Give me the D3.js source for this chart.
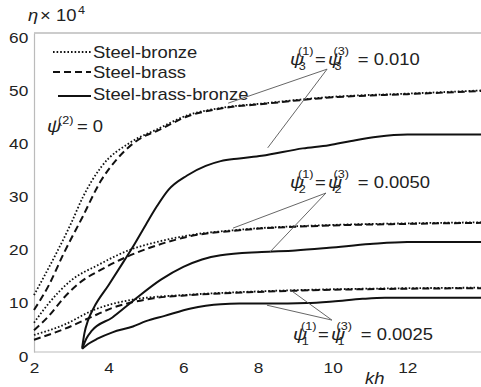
<!DOCTYPE html>
<html>
<head>
<meta charset="utf-8">
<script src="https://cdn.jsdelivr.net/npm/d3@7"></script>
<style>
  body { margin: 0; background: #fff; }
  text { font-family: "Liberation Sans", Arial, sans-serif; fill: #222; }
</style>
</head>
<body>
<svg id="chart"></svg>
<script>
// kh ticks and eta ticks
const xTicks = [2, 4, 6, 8, 10, 12];
const yTicks = [0, 10, 20, 30, 40, 50, 60];

// psi = 0.010
const bronze010 = [[2,10.7],[2.3,14.6],[2.6,18.6],[3.0,24.3],[3.3,29.0],[3.8,34.8],[4.6,39.5],[5.3,41.9],[6.1,44.5],[7.0,45.9],[8.2,46.8],[10,48.0],[12,48.6],[14,49.2]];
const brass010 = [[2,7.9],[2.4,12.6],[2.8,18.6],[3.3,25.4],[3.8,32.3],[4.2,36.1],[4.9,40.4],[5.3,41.6],[6.1,44.3],[7.0,45.8],[8.2,46.7],[10,47.9],[12,48.5],[14,49.1]];
const triple010 = [[3.29,0.8],[3.35,3.5],[3.45,6.0],[3.6,8.3],[4.0,12.6],[4.4,17.0],[4.65,19.8],[5.0,24.0],[5.3,27.5],[5.6,30.5],[6.1,33.2],[6.6,35.0],[7.0,35.9],[7.5,36.4],[8.1,36.9],[9.2,38.3],[9.9,38.9],[10.5,39.7],[11.2,40.5],[12,40.9],[14,40.9]];

// psi = 0.0050
const bronze005 = [[2,5.5],[2.4,9.2],[3.0,13.5],[3.7,16.3],[4.6,19.3],[5.3,20.7],[6.2,22.0],[7.5,23.0],[10,23.9],[12,24.2],[14,24.4]];
const brass005 = [[2,4.1],[2.4,6.8],[2.8,10.2],[3.2,12.9],[3.8,15.5],[4.3,17.3],[5.1,19.6],[6.2,21.8],[7.5,22.9],[10,23.8],[12,24.1],[14,24.3]];
const triple005 = [[3.29,0.6],[3.4,2.5],[3.55,4.0],[4.1,6.5],[4.65,9.6],[5.4,13.6],[6.0,16.0],[6.5,17.4],[7.0,18.2],[8.1,18.8],[9.0,19.1],[9.9,19.6],[11,20.3],[12,20.7],[14,20.7]];

// psi = 0.0025
const bronze0025 = [[2,3.2],[2.8,5.1],[3.6,7.9],[4.6,9.8],[6.2,10.8],[8,11.4],[10,11.8],[12,12.0],[14,12.1]];
const brass0025 = [[2,2.3],[2.8,4.3],[3.7,7.1],[4.1,8.3],[4.6,9.3],[5.2,10.1],[6.2,10.7],[8,11.3],[10,11.7],[12,11.9],[14,12.0]];
const triple0025 = [[3.29,0.6],[3.45,1.5],[3.7,2.5],[4.1,3.7],[4.65,4.8],[5.0,5.8],[5.5,6.8],[6.2,8.2],[6.6,8.7],[7.0,9.0],[7.5,9.1],[8.3,9.1],[9.3,9.2],[10,9.5],[10.8,10.0],[11.4,10.2],[14,10.2]];

const legendNames = ["Steel-bronze", "Steel-brass", "Steel-brass-bronze"];
const psiValues = ["0.010", "0.0050", "0.0025"];
const psiIndex = ["3", "2", "1"];

const width = 481, height = 387;
const stretch = 1.15; // text in the original is stretched sideways

const svg = d3.select("#chart").attr("width", width).attr("height", height);

const x = d3.scaleLinear().domain([2, 14]).range([34, 482]);
const y = d3.scaleLinear().domain([0, 60]).range([352, 33]);

// frame
svg.append("line")
    .attr("x1", x(2)).attr("x2", width)
    .attr("y1", y(60)).attr("y2", y(60))
    .attr("stroke", "#999").attr("stroke-width", 1.2);

let xAxis = svg.append("g")
    .attr("transform", "translate(0," + y(0) + ")")
    .call(d3.axisBottom(x).tickValues(xTicks).tickSize(0).tickPadding(10).tickSizeOuter(0));
let yAxis = svg.append("g")
    .attr("transform", "translate(" + x(2) + ",0)")
    .call(d3.axisLeft(y).tickValues(yTicks).tickSize(0).tickPadding(5).tickSizeOuter(0));

[xAxis, yAxis].forEach(a => {
    a.select(".domain").attr("stroke", "#bbb").attr("stroke-width", 1.2);
    a.selectAll("text")
        .style("font-family", "'Liberation Sans', Arial, sans-serif")
        .style("font-size", "15px")
        .attr("fill", "#222");
});
xAxis.select(".domain").attr("d", "M" + x(2) + ",0H" + width);
xAxis.selectAll(".tick text").attr("transform", "scale(" + stretch + ",1)");
yAxis.selectAll(".tick text").attr("dy", "0.6em").attr("transform", "scale(" + stretch + ",1)");

// curves
const line = d3.line()
    .x(d => x(d[0]))
    .y(d => y(d[1]))
    .curve(d3.curveMonotoneX);

const styles = {
    dotted: { dash: "1.6,2", w: 1.8 },
    dashed: { dash: "7,4", w: 2 },
    solid: { dash: null, w: 2 }
};

const curves = [
    [bronze010, "dotted"], [brass010, "dashed"], [triple010, "solid"],
    [bronze005, "dotted"], [brass005, "dashed"], [triple005, "solid"],
    [bronze0025, "dotted"], [brass0025, "dashed"], [triple0025, "solid"]
];

curves.forEach(([data, kind]) => {
    svg.append("path")
        .datum(data)
        .attr("fill", "none")
        .attr("stroke", "#111")
        .attr("stroke-width", styles[kind].w)
        .attr("stroke-dasharray", styles[kind].dash)
        .attr("d", line);
});

// stretched text group
function tg(px, py) {
    return svg.append("g").attr("transform", "translate(" + px + "," + py + ") scale(" + stretch + ",1)");
}
function addText(g, str, dx, dy, size, italic) {
    return g.append("text").attr("x", dx).attr("y", dy)
        .style("font-size", size + "px")
        .style("font-style", italic ? "italic" : "normal")
        .text(str);
}

// y title
let title = tg(28, 21);
addText(title, "η", 0, 0, 16, true);
addText(title, "× 10", 10.5, 0, 16);
addText(title, "4", 43.5, -7, 11);

// legend
const legendY = [52, 72, 96];
const legendKinds = ["dotted", "dashed", "solid"];
const legendX0 = [53, 53, 58];
legendNames.forEach((name, i) => {
    svg.append("line")
        .attr("x1", legendX0[i]).attr("x2", 91)
        .attr("y1", legendY[i]).attr("y2", legendY[i])
        .attr("stroke", "#111")
        .attr("stroke-width", styles[legendKinds[i]].w)
        .attr("stroke-dasharray", styles[legendKinds[i]].dash);
    let g = tg(93, [58, 78, 100][i]);
    addText(g, name, 0, 0, 16);
});

let psi0 = tg(47, 132);
addText(psi0, "ψ", 0, 0, 17, true);
addText(psi0, "(2)", 9.6, -8, 11);
addText(psi0, "= 0", 26, 0, 16);

// psi labels with stacked indices
function psiLabel(px, py, idx, val) {
    let g = tg(px, py);
    addText(g, "ψ", 0, 0, 17, true);
    addText(g, "(1)", 7, -10, 11);
    addText(g, idx, 7.6, 5, 11);
    addText(g, "=", 21.7, 0, 16);
    addText(g, "ψ", 33, 0, 17, true);
    addText(g, "(3)", 37.8, -10, 11);
    addText(g, idx, 38.6, 5, 11);
    addText(g, "= " + val, 59, 0, 16);
}
const labelPos = [[290, 65], [290, 188], [293, 340]];
psiValues.forEach((v, i) => psiLabel(labelPos[i][0], labelPos[i][1], psiIndex[i], v));

// leader lines, in data units: [origin, end]
const leaders = [
    [[9.85, 53.2], [7.2, 46.8]],
    [[9.85, 53.2], [8.26, 38.4]],
    [[9.82, 29.9], [7.33, 23.3]],
    [[9.82, 29.9], [8.32, 18.8]],
    [[9.98, 6.0], [8.86, 11.7]],
    [[9.98, 6.0], [8.24, 8.8]]
];
leaders.forEach(([a, b]) => {
    svg.append("line")
        .attr("x1", x(a[0])).attr("y1", y(a[1]))
        .attr("x2", x(b[0])).attr("y2", y(b[1]))
        .attr("stroke", "#555").attr("stroke-width", 0.9);
});

// x title
let kh = tg(365, 384);
addText(kh, "kh", 0, 0, 16, true);
</script>
</body>
</html>
